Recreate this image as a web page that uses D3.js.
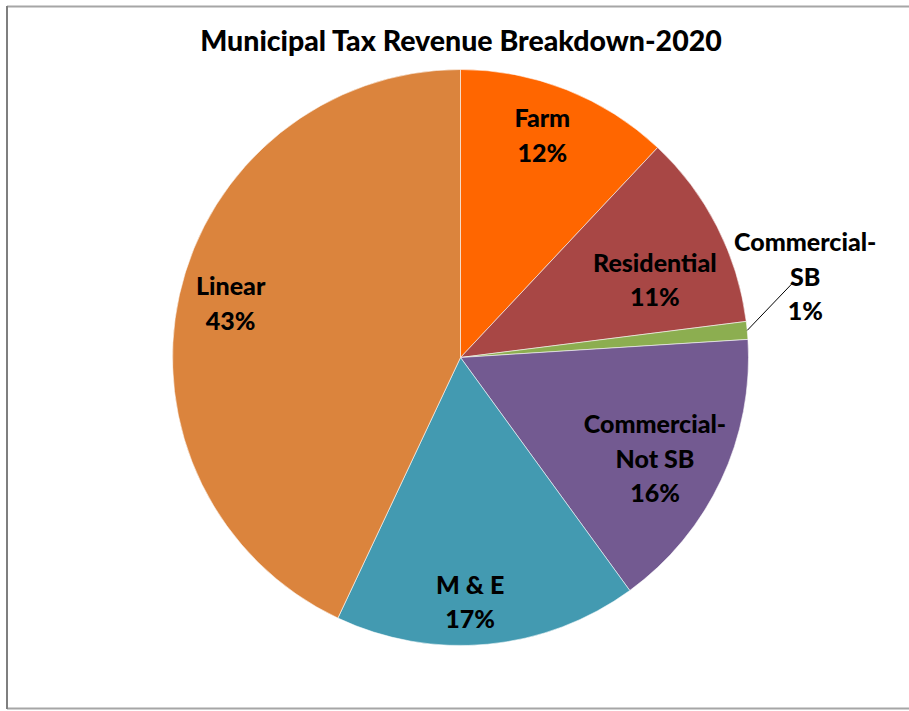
<!DOCTYPE html>
<html>
<head>
<meta charset="utf-8">
<script src="https://cdn.jsdelivr.net/npm/d3@7/dist/d3.min.js"></script>
<style>
  html, body { margin: 0; padding: 0; background: #fff; }
  svg { display: block; }
  text { font-family: Lato, "Open Sans", sans-serif; font-weight: 900; fill: #000; }
</style>
</head>
<body>
<svg id="chart" width="909" height="711"></svg>
<script>
// Revenue shares (%) by property class, clockwise from 12 o'clock
const categories = ["Farm", "Residential", "Commercial-SB", "Commercial-Not SB", "M & E", "Linear"];
const shares = [12, 11, 1, 16, 17, 43];
const labelLines = [["Farm"], ["Residential"], ["Commercial-", "SB"], ["Commercial-", "Not SB"], ["M & E"], ["Linear"]];
const colors = ["#FF6600", "#A84745", "#8CAE50", "#735A91", "#439AB1", "#DB843D"];
const title = "Municipal Tax Revenue Breakdown-2020";

const svg = d3.select("#chart");
const W = 909, H = 711;

// outer frame
svg.append("line").attr("x1", 7).attr("y1", 6.5).attr("x2", W + 2).attr("y2", 6.5)
  .attr("stroke", "#a6a6a6").attr("stroke-width", 2);
svg.append("line").attr("x1", 7).attr("y1", 708.5).attr("x2", W + 2).attr("y2", 708.5)
  .attr("stroke", "#a6a6a6").attr("stroke-width", 2);
svg.append("line").attr("x1", 7).attr("y1", 6).attr("x2", 7).attr("y2", 709)
  .attr("stroke", "#7f7f7f").attr("stroke-width", 2);

svg.append("text")
  .attr("x", 461).attr("y", 51)
  .attr("text-anchor", "middle")
  .attr("font-size", 28.5)
  .text(title);

const cx = 460.5, cy = 357.5, R = 288;
const g = svg.append("g").attr("transform", `translate(${cx},${cy})`);

const data = categories.map((c, i) => ({ name: c, value: shares[i], lines: labelLines[i], color: colors[i] }));

const pie = d3.pie().value(d => d.value).sort(null);
const arcs = pie(data);
const arc = d3.arc().innerRadius(0).outerRadius(R);

g.selectAll("path.slice")
  .data(arcs)
  .join("path")
  .attr("class", "slice")
  .attr("d", arc)
  .attr("fill", d => d.data.color)
  .attr("stroke", "rgba(255,255,255,0.55)")
  .attr("stroke-width", 1);

// inside labels: placed on a ring at ~80% of the radius, with small nudges
const labelArc = d3.arc().innerRadius(R * 0.8).outerRadius(R * 0.8);
const nudge = {
  "Farm": [-3, -8],
  "Residential": [-11, 27],
  "Commercial-Not SB": [-14, 3],
  "M & E": [-12, 15],
  "Linear": [-5, -4]
};
const lineH = 34.5, fs = 25;

arcs.forEach(a => {
  const d = a.data;
  const pct = d.value + "%";
  const lines = d.lines.concat([pct]);
  let x, y;
  if (d.name === "Commercial-SB") {
    // outside label with leader line
    const mid = (a.startAngle + a.endAngle) / 2;
    const p0 = [Math.sin(mid) * R, -Math.cos(mid) * R];
    const p1 = [p0[0] + 46, p0[1] - 48];
    g.append("line")
      .attr("x1", p0[0]).attr("y1", p0[1])
      .attr("x2", p1[0]).attr("y2", p1[1])
      .attr("stroke", "#000").attr("stroke-width", 1);
    x = p1[0] + 12; y = p1[1] - 40;
  } else {
    const c = labelArc.centroid(a);
    const n = nudge[d.name] || [0, 0];
    x = c[0] + n[0];
    y = c[1] + n[1] - (lines.length - 1) * lineH / 2;
  }
  const t = g.append("text")
    .attr("text-anchor", "middle")
    .attr("font-size", fs);
  lines.forEach((s, i) => {
    t.append("tspan")
      .attr("x", x)
      .attr("y", y + i * lineH + 9)
      .text(s);
  });
});
</script>
</body>
</html>
